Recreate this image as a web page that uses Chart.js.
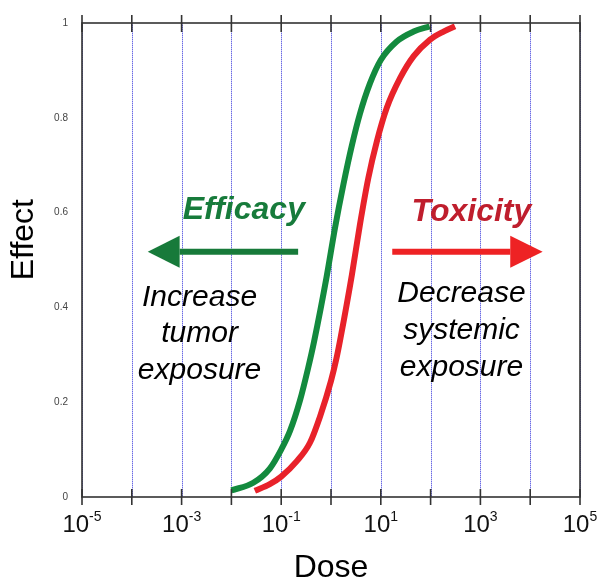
<!DOCTYPE html>
<html>

<head>
  <meta charset="UTF-8">
  <title>Dose response</title>
  <script src="https://cdn.jsdelivr.net/npm/chart.js@4.4.1/dist/chart.umd.min.js"></script>
  <style>
    body { margin: 0; background: #fff; }
    canvas { display: block; }
  </style>
</head>

<body>
  <canvas id="myChart" width="600" height="579"></canvas>
  <script>
    // efficacy curve (green)
    const efficacyDose = [0.01, 0.0275, 0.059, 0.1, 0.151, 0.24, 0.347, 0.457, 0.818, 1.2, 1.78, 2.63, 3.8, 6.03, 10, 20.9, 45.7, 95.5];
    const efficacyEffect = [0.014, 0.03, 0.06, 0.1, 0.14, 0.205, 0.272, 0.328, 0.465, 0.567, 0.66, 0.742, 0.808, 0.872, 0.922, 0.961, 0.982, 0.993];

    // toxicity curve (red)
    const toxicityDose = [0.0295, 0.059, 0.1, 0.204, 0.38, 0.603, 1, 1.29, 1.55, 2.63, 3.8, 5.62, 8.32, 13.2, 24.5, 45.7, 97.7, 182, 309];
    const toxicityEffect = [0.013, 0.027, 0.043, 0.075, 0.115, 0.17, 0.245, 0.293, 0.335, 0.469, 0.574, 0.673, 0.75, 0.821, 0.884, 0.93, 0.965, 0.982, 0.993];

    // axis ticks
    const doseTickExps = [-5, -4, -3, -2, -1, 0, 1, 2, 3, 4, 5];
    const doseLabelExps = [-5, -3, -1, 1, 3, 5];
    const effectTicks = [0, 0.2, 0.4, 0.6, 0.8, 1];
    const effectTickLabels = ['0', '0.2', '0.4', '0.6', '0.8', '1'];

    const GREEN = '#138a3e';
    const RED = '#e8222a';

    function toPoints(xs, ys) {
      return xs.map((x, i) => ({ x: x, y: ys[i] }));
    }

    // dotted blue lines at every decade, under the curves
    const gridPlugin = {
      id: 'dotgrid',
      beforeDatasetsDraw(chart) {
        const { ctx, chartArea: a, scales: { x } } = chart;
        ctx.save();
        ctx.lineWidth = 1;
        x.ticks.forEach(t => {
          const px = Math.round(x.getPixelForValue(t.value)) + 0.5;
          ctx.setLineDash([]);
          ctx.strokeStyle = '#c4c4f2';
          ctx.beginPath();
          ctx.moveTo(px, a.top);
          ctx.lineTo(px, a.bottom);
          ctx.stroke();
          ctx.setLineDash([1, 1]);
          ctx.strokeStyle = '#6a6ae6';
          ctx.beginPath();
          ctx.moveTo(px, a.top);
          ctx.lineTo(px, a.bottom);
          ctx.stroke();
        });
        ctx.restore();
      }
    };

    // frame, crossing tick marks, superscript labels, titles and the notes
    const decoPlugin = {
      id: 'deco',
      afterDraw(chart) {
        const { ctx, chartArea: a, scales: { x, y } } = chart;
        const at = (lg, v) => [x.getPixelForValue(Math.pow(10, lg)), y.getPixelForValue(v)];
        ctx.save();

        // frame
        ctx.strokeStyle = '#333';
        ctx.lineWidth = 1.6;
        ctx.strokeRect(a.left, a.top, a.right - a.left, a.bottom - a.top);
        ctx.beginPath();
        x.ticks.forEach(t => {
          const px = x.getPixelForValue(t.value);
          ctx.moveTo(px, a.top - 8); ctx.lineTo(px, a.top + 9);
          ctx.moveTo(px, a.bottom - 8); ctx.lineTo(px, a.bottom + 8);
        });
        ctx.stroke();

        // x tick labels 10^n
        ctx.fillStyle = '#111';
        ctx.textBaseline = 'alphabetic';
        ctx.textAlign = 'left';
        doseLabelExps.forEach(e => {
          const px = x.getPixelForValue(Math.pow(10, e));
          const exp = String(e);
          ctx.font = '24px "Liberation Sans", Arial, sans-serif';
          const wb = ctx.measureText('10').width;
          ctx.font = '14px "Liberation Sans", Arial, sans-serif';
          const we = ctx.measureText(exp).width;
          const x0 = px - (wb + we) / 2;
          ctx.font = '24px "Liberation Sans", Arial, sans-serif';
          ctx.fillText('10', x0, a.bottom + 35);
          ctx.font = '14px "Liberation Sans", Arial, sans-serif';
          ctx.fillText(exp, x0 + wb, a.bottom + 24);
        });

        // axis titles
        ctx.fillStyle = '#000';
        ctx.font = '32px "Liberation Sans", Arial, sans-serif';
        ctx.textAlign = 'center';
        ctx.fillText('Dose', (a.left + a.right) / 2, chart.height - 2);
        ctx.save();
        ctx.translate(33, y.getPixelForValue(0.543));
        ctx.rotate(-Math.PI / 2);
        ctx.fillText('Effect', 0, 0);
        ctx.restore();

        // headings
        ctx.font = 'italic bold 32px "Liberation Sans", Arial, sans-serif';
        ctx.fillStyle = '#177b3b';
        let p = at(-1.75, 0.587);
        ctx.fillText('Efficacy', p[0], p[1]);
        ctx.fillStyle = '#bf1e2d';
        p = at(2.82, 0.582);
        ctx.fillText('Toxicity', p[0], p[1]);

        // arrows
        function arrow(fromLg, baseLg, tipLg, v, color) {
          const t = at(fromLg, v), b = at(baseLg, v), h = at(tipLg, v);
          ctx.strokeStyle = color;
          ctx.fillStyle = color;
          ctx.lineWidth = 6;
          ctx.beginPath();
          ctx.moveTo(t[0], t[1]); ctx.lineTo(b[0], b[1]);
          ctx.stroke();
          ctx.beginPath();
          ctx.moveTo(h[0], h[1]);
          ctx.lineTo(b[0], b[1] - 16);
          ctx.lineTo(b[0], b[1] + 16);
          ctx.closePath();
          ctx.fill();
        }
        arrow(-0.66, -3.04, -3.68, 0.5175, '#177a3a');
        arrow(1.23, 3.6, 4.25, 0.5175, '#ee2224');

        // notes
        ctx.fillStyle = '#000';
        ctx.font = 'italic 30px "Liberation Sans", Arial, sans-serif';
        const leftNote = ['Increase', 'tumor', 'exposure'];
        const leftV = [0.404, 0.326, 0.25];
        leftNote.forEach((s, i) => { const q = at(-2.64, leftV[i]); ctx.fillText(s, q[0], q[1]); });
        const rightNote = ['Decrease', 'systemic', 'exposure'];
        const rightV = [0.412, 0.334, 0.256];
        rightNote.forEach((s, i) => { const q = at(2.62, rightV[i]); ctx.fillText(s, q[0], q[1]); });

        ctx.restore();
      }
    };

    const ctx = document.getElementById('myChart').getContext('2d');
    const chart = new Chart(ctx, {
      type: 'scatter',
      data: {
        datasets: [{
          label: 'Efficacy',
          data: toPoints(efficacyDose, efficacyEffect),
          showLine: true,
          borderColor: GREEN,
          backgroundColor: GREEN,
          borderWidth: 6,
          pointRadius: 0,
          cubicInterpolationMode: 'monotone'
        },
        {
          label: 'Toxicity',
          data: toPoints(toxicityDose, toxicityEffect),
          showLine: true,
          borderColor: RED,
          backgroundColor: RED,
          borderWidth: 6,
          pointRadius: 0,
          cubicInterpolationMode: 'monotone'
        }]
      },
      options: {
        responsive: false,
        animation: false,
        layout: { padding: { top: 23, right: 20, left: 0, bottom: 0 } },
        plugins: {
          legend: { display: false },
          tooltip: { enabled: false }
        },
        scales: {
          x: {
            type: 'logarithmic',
            min: 1e-5,
            max: 1e5,
            afterBuildTicks: s => { s.ticks = doseTickExps.map(e => ({ value: Math.pow(10, e) })); },
            afterFit: s => { s.height = 82; },
            ticks: { display: false },
            grid: { display: false, drawTicks: false },
            border: { display: false }
          },
          y: {
            min: 0,
            max: 1,
            afterBuildTicks: s => { s.ticks = effectTicks.map(v => ({ value: v })); },
            afterFit: s => { s.width = 82; },
            ticks: {
              padding: 14,
              color: '#444',
              font: { size: 10, family: '"Liberation Sans", Arial, sans-serif' },
              callback: (v, i) => effectTickLabels[i]
            },
            grid: { display: false, drawTicks: false },
            border: { display: false }
          }
        }
      },
      plugins: [gridPlugin, decoPlugin]
    });
  </script>
</body>

</html>
